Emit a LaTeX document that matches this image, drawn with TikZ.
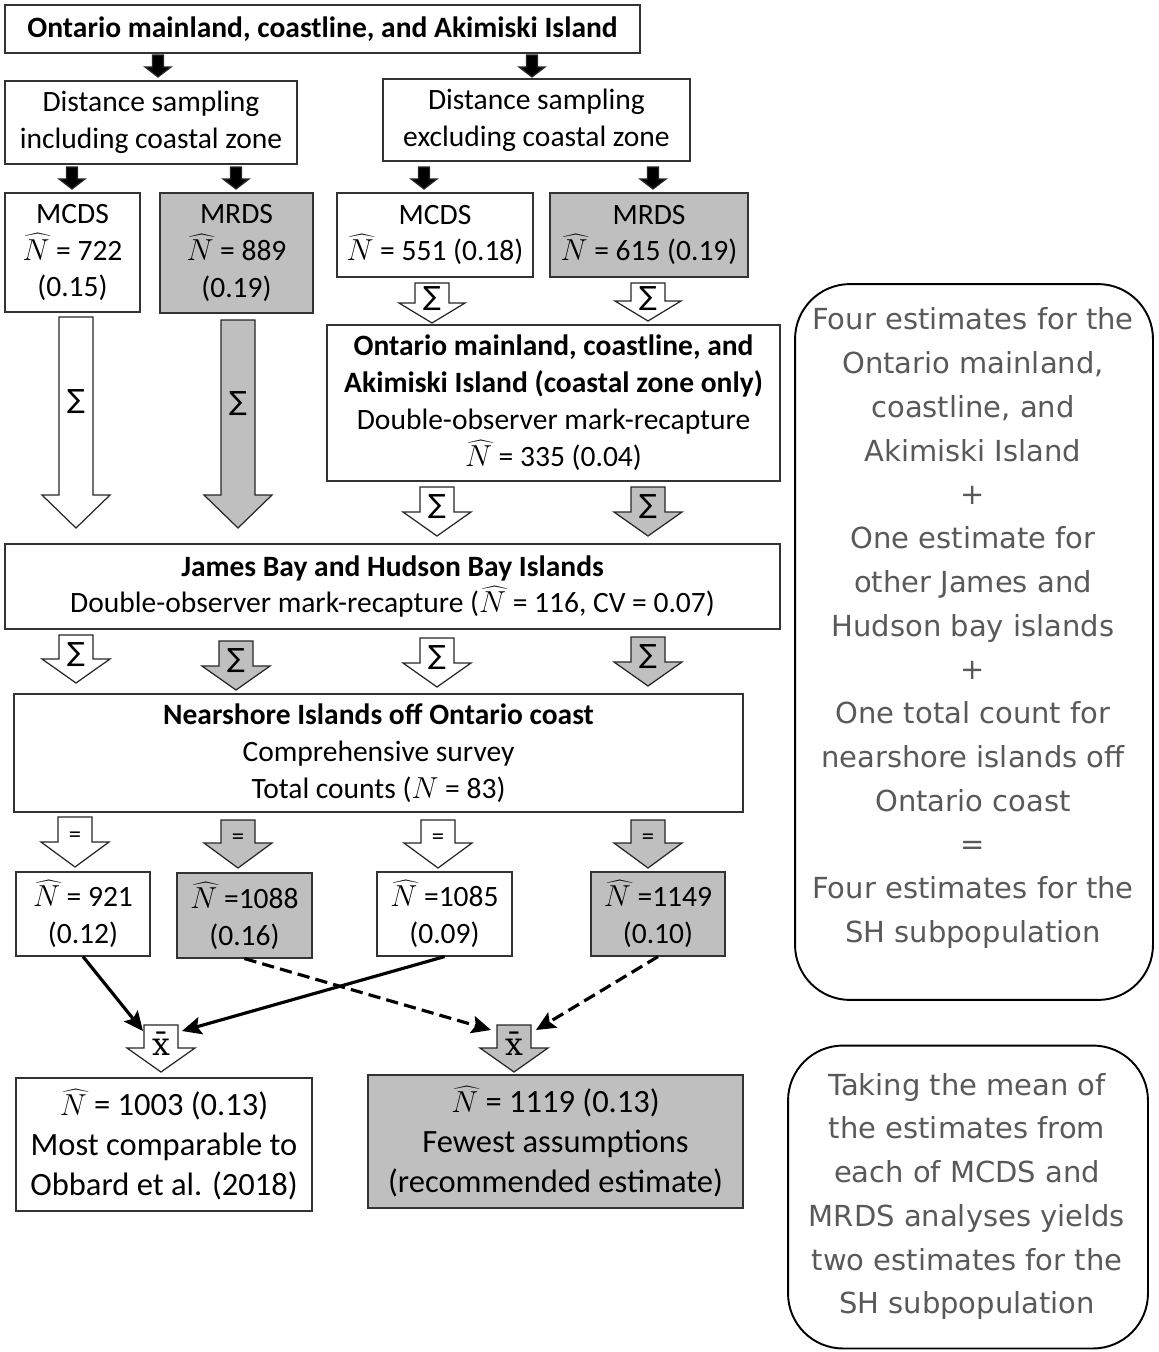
\documentclass[tikz,border=0pt]{standalone}
\usepackage{fontspec}
\setmainfont{Carlito}
\newfontfamily\notefont{DejaVu Sans}
\newfontfamily\meanfont{DejaVu Serif}
\usetikzlibrary{arrows.meta}
\definecolor{boxgray}{RGB}{191,191,191}
\definecolor{notegray}{RGB}{89,89,89}
\newcommand{\Nhat}{$\widehat{N}$}
\newcommand{\sumsign}{{\notefont\fontsize{15}{15}\selectfont ∑}}
\newcommand{\eqsign}{\fontsize{14}{14}\selectfont=}
\newcommand{\meansign}{{\meanfont\fontsize{18}{18}\selectfont x̄}}
\newcommand{\blockarr}[9]{%
  \filldraw[fill=#1, draw=black!85, line width=0.7pt, line join=miter]
    (#2-#5,#3) -- (#2+#5,#3) -- (#2+#5,#4-#7) -- (#2+#6,#4-#7) -- (#2,#4)
    -- (#2-#6,#4-#7) -- (#2-#5,#4-#7) -- cycle;
  \node (#9) at (#2,{#3+0.4*(#4-#3)}) {#8};
}

\begin{document}
\begin{tikzpicture}[x=0.02cm, y=-0.02cm,
  every node/.style={font=\fontsize{16.8}{21}\selectfont, align=center, inner sep=0pt},
  box/.style={draw=black!80, line width=0.7pt, fill=white},
  gbox/.style={box, fill=boxgray},
  big/.style={font=\fontsize{18.5}{22.8}\selectfont},
  note/.style={draw=black, line width=1.1pt, rounded corners=1.1cm},
  notetext/.style={font=\notefont\fontsize{16.5}{24.9}\selectfont, text=notegray},
  link/.style={line width=1.8pt, -{Stealth[length=11pt, width=10pt, inset=2pt]}}]
\useasboundingbox (0,0) rectangle (1159,1352);

\node[box, minimum width=12.7cm, minimum height=0.96cm] (top) at (322.5,29)
  {\textbf{Ontario mainland, coastline, and Akimiski Island}};
\node[box, minimum width=5.84cm, minimum height=1.66cm] (distIn) at (151,122.5)
  {Distance sampling\\including coastal zone};
\node[box, minimum width=6.14cm, minimum height=1.64cm] (distEx) at (536.5,120)
  {Distance sampling\\excluding coastal zone};

\node[box, minimum width=2.7cm, minimum height=2.38cm] (mcdsA) at (72.5,252.5)
  {MCDS\\\Nhat{} = 722\\(0.15)};
\node[gbox, minimum width=3.06cm, minimum height=2.4cm] (mrdsA) at (236.5,253)
  {MRDS\\\Nhat{} = 889\\(0.19)};
\node[box, minimum width=3.92cm, minimum height=1.68cm] (mcdsB) at (435,235)
  {MCDS\\\Nhat{} = 551 (0.18)};
\node[gbox, minimum width=3.96cm, minimum height=1.68cm] (mrdsB) at (649,235)
  {MRDS\\\Nhat{} = 615 (0.19)};

\node[box, minimum width=9.06cm, minimum height=3.12cm] (coastal) at (553.5,403)
  {\textbf{Ontario mainland, coastline, and}\\\textbf{Akimiski Island (coastal zone only)}\\
   Double-observer mark-recapture\\\Nhat{} = 335 (0.04)};
\node[box, minimum width=15.5cm, minimum height=1.7cm] (james) at (392.5,586.5)
  {\textbf{James Bay and Hudson Bay Islands}\\
   Double-observer mark-recapture (\Nhat{} = 116, CV = 0.07)};
\node[box, minimum width=14.58cm, minimum height=2.36cm] (near) at (378.5,753)
  {\textbf{Nearshore Islands off Ontario coast}\\Comprehensive survey\\Total counts ($N$ = 83)};

\node[box, minimum width=2.68cm, minimum height=1.68cm] (resA) at (83,914) {\Nhat{} = 921\\(0.12)};
\node[gbox, minimum width=2.7cm, minimum height=1.7cm] (resB) at (244.5,915.5) {\Nhat{} =1088\\(0.16)};
\node[box, minimum width=2.7cm, minimum height=1.68cm] (resC) at (444.5,914) {\Nhat{} =1085\\(0.09)};
\node[gbox, minimum width=2.68cm, minimum height=1.68cm] (resD) at (658,914) {\Nhat{} =1149\\(0.10)};

\node[box, big, minimum width=5.92cm, minimum height=2.66cm] (finA) at (164,1144.5)
  {\Nhat{} = 1003 (0.13)\\Most comparable to\\Obbard et al. (2018)};
\node[gbox, big, minimum width=7.5cm, minimum height=2.66cm] (finB) at (555.5,1141.5)
  {\Nhat{} = 1119 (0.13)\\Fewest assumptions\\(recommended estimate)};

\foreach \x/\t/\b [count=\i] in {158/55/77, 532/55/77, 72/167/189, 236/167/189, 424/167/189, 653/167/189}
  \blockarr{black}{\x}{\t}{\b}{5.5}{13}{10}{}{k\i};

\blockarr{white}{76}{317}{528}{17}{34}{33}{\sumsign}{bigA}
\blockarr{boxgray}{238}{320}{528}{17}{34}{33}{\sumsign}{bigB}
\blockarr{white}{432}{283}{323}{17}{33}{20}{\sumsign}{sumA}
\blockarr{white}{648}{283}{321}{17}{33}{20}{\sumsign}{sumB}
\blockarr{white}{437}{487}{536}{17}{34}{24}{\sumsign}{sumC}
\blockarr{boxgray}{648}{487}{536}{17}{34}{24}{\sumsign}{sumD}

\foreach \x/\t/\b/\f [count=\i] in {76/635/683/white, 236/641/690/boxgray, 437/638/687/white, 648/637/686/boxgray}
  \blockarr{\f}{\x}{\t}{\b}{17}{34}{24}{\sumsign}{row\i};
\foreach \x/\t/\b/\f [count=\i] in {75/817/867/white, 238/820/868/boxgray, 438/820/868/white, 648/820/868/boxgray}
  \blockarr{\f}{\x}{\t}{\b}{17}{34}{25}{\eqsign}{eq\i};

\blockarr{white}{161}{1025}{1072}{17}{34}{24}{\meansign}{meanA}
\blockarr{boxgray}{514}{1025}{1072}{17}{34}{24}{\meansign}{meanB}

\coordinate (inA1) at (143,1031);
\coordinate (inA2) at (182,1031);
\coordinate (inB1) at (491,1030);
\coordinate (inB2) at (536,1030);
\draw[link] (resA.south) -- (inA1);
\draw[link] (resC.south) -- (inA2);
\draw[link, dash pattern=on 7pt off 3.5pt] (resB.south) -- (inB1);
\draw[link, dash pattern=on 7pt off 3.5pt] (resD.south) -- (inB2);

\node[note, minimum width=7.16cm, minimum height=14.32cm] (noteA) at (974,642) {};
\node[notetext] (noteAtxt) at (973,628)
  {Four estimates for the\\Ontario mainland,\\coastline, and\\Akimiski Island\\+\\
   One estimate for\\other James and\\Hudson bay islands\\+\\One total count for\\
   nearshore islands off\\Ontario coast\\=\\Four estimates for the\\SH subpopulation};
\node[note, minimum width=7.2cm, minimum height=6.06cm] (noteB) at (968,1197) {};
\node[notetext] (noteBtxt) at (967,1196.5)
  {Taking the mean of\\the estimates from\\each of MCDS and\\MRDS analyses yields\\
   two estimates for the\\SH subpopulation};
\end{tikzpicture}
\end{document}
